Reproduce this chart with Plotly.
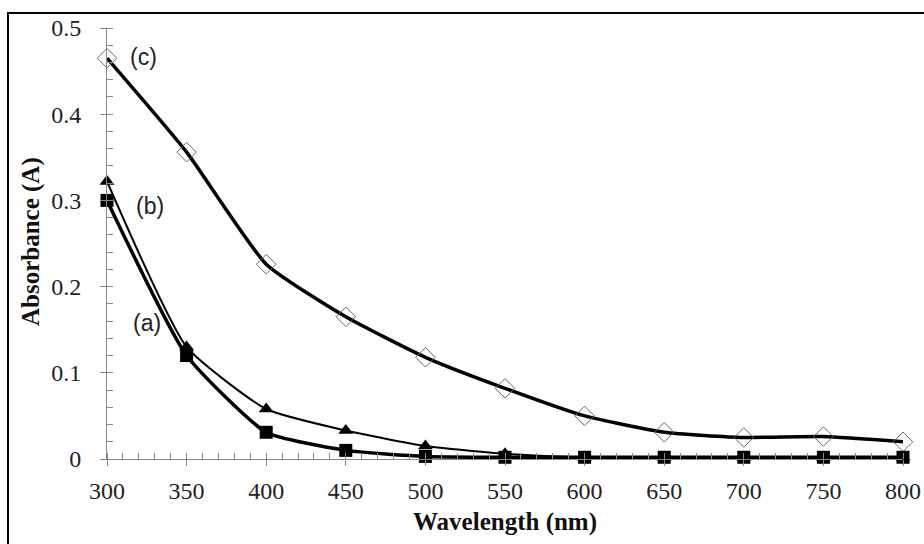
import plotly.graph_objects as go

wavelength = [300, 350, 400, 450, 500, 550, 600, 650, 700, 750, 800]
series_a = [0.300, 0.120, 0.031, 0.010, 0.003, 0.002, 0.002, 0.002, 0.002, 0.002, 0.002]
series_b = [0.322, 0.130, 0.058, 0.033, 0.015, 0.006, 0.002, 0.002, 0.002, 0.002, 0.002]
series_c = [0.465, 0.356, 0.226, 0.165, 0.118, 0.082, 0.050, 0.031, 0.025, 0.026, 0.020]
labels = ["(a)", "(b)", "(c)"]
label_pos = [(325, 0.158), (327, 0.293), (323, 0.466)]
x_ticks = [300, 350, 400, 450, 500, 550, 600, 650, 700, 750, 800]
y_ticks = [0, 0.1, 0.2, 0.3, 0.4, 0.5]
y_ticktext = ["0", "0.1", "0.2", "0.3", "0.4", "0.5"]
x_title = "<b>Wavelength (nm)</b>"
y_title = "<b>Absorbance (A)</b>"

fig = go.Figure()
fig.add_trace(go.Scatter(x=wavelength, y=series_c, mode="lines+markers",
                         line=dict(color="black", width=3.5, shape="spline", smoothing=0.5),
                         marker=dict(symbol="diamond-open", size=15, color="#666", line=dict(width=1)),
                         cliponaxis=False))
fig.add_trace(go.Scatter(x=wavelength, y=series_b, mode="lines+markers",
                         line=dict(color="black", width=2, shape="spline", smoothing=0.5),
                         marker=dict(symbol="triangle-up", size=13, color="black"), cliponaxis=False))
fig.add_trace(go.Scatter(x=wavelength, y=series_a, mode="lines+markers",
                         line=dict(color="black", width=3.5, shape="spline", smoothing=0.5),
                         marker=dict(symbol="square", size=13, color="black"), cliponaxis=False))

for t, (lx, ly) in zip(labels, label_pos):
    fig.add_annotation(x=lx, y=ly, text=t, showarrow=False, xanchor="center", yanchor="middle",
                       font=dict(family="Liberation Sans", size=23, color="#222"))

tickfont = dict(family="Liberation Serif", size=24, color="#222")
titlefont = dict(family="Liberation Serif", size=25, color="#111")

fig.add_annotation(xref="paper", yref="paper", x=0.5, y=(459 - 522) / 431,
                   text=x_title, showarrow=False, xanchor="center", yanchor="middle", font=titlefont)
fig.add_annotation(xref="paper", yref="paper", x=(31 - 107) / 796, y=(459 - 242) / 431,
                   text=y_title, textangle=-90, showarrow=False, xanchor="center", yanchor="middle",
                   font=titlefont)

fig.update_layout(
    width=924, height=544,
    margin=dict(l=107, r=21, t=28, b=85, autoexpand=False),
    paper_bgcolor="white", plot_bgcolor="white",
    showlegend=False,
    xaxis=dict(range=[300, 800], tickvals=x_ticks, tickfont=tickfont, showgrid=False, zeroline=False,
               showline=True, linecolor="#888", linewidth=1, ticks="outside", ticklen=6, tickcolor="#888",
               ticklabelstandoff=4, automargin=False,
               minor=dict(dtick=10, ticks="inside", ticklen=6, tickcolor="#888", showgrid=False)),
    yaxis=dict(range=[0, 0.5], tickvals=y_ticks, ticktext=y_ticktext, tickfont=tickfont, showgrid=False,
               zeroline=False, showline=True, linecolor="#888", linewidth=1, ticks="outside", ticklen=6,
               tickcolor="#888", ticklabelstandoff=14, automargin=False,
               minor=dict(dtick=0.02, ticks="inside", ticklen=6, tickcolor="#888", showgrid=False)),
    shapes=[dict(type="rect", xref="paper", yref="paper",
                 x0=(8 - 107) / 796, x1=1.05, y0=-0.3, y1=(459 - 13) / 431,
                 line=dict(color="black", width=2))],
)

fig.write_html("out.html", config={"displayModeBar": False},
               post_script="document.body.style.margin='0';document.body.style.overflow='hidden';")
